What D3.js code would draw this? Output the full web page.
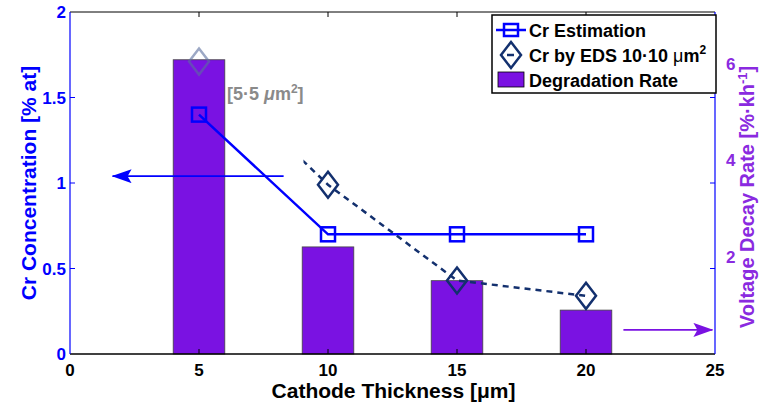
<!DOCTYPE html>
<html>
<head>
<meta charset="utf-8">
<script src="https://cdn.jsdelivr.net/npm/d3@7"></script>
<style>
  body { margin: 0; background: #fff; }
  text { font-family: "Liberation Sans", Helvetica, Arial, sans-serif; font-weight: bold; }
</style>
</head>
<body>
<div id="chart"></div>
<script>
// data
var thickness = [5, 10, 15, 20];
var degradationRate = [6.1, 2.22, 1.52, 0.91];      // right axis, %/kh
var crEstimation = [1.4, 0.7, 0.7, 0.7];             // left axis, % at
var edsThickness = [5, 10, 15, 20];
var crEDS = [1.71, 0.99, 0.43, 0.34];                // first point is the 5x5 um2 one
var xTicks = [0, 5, 10, 15, 20, 25];
var yLeftTicks = [0, 0.5, 1, 1.5, 2];
var yRightTicks = [2, 4, 6];
var blueArrow = [[8.28, 1.04], [1.65, 1.04]];
var purpleArrow = [[21.45, 0.5], [24.9, 0.5]];

var width = 760, height = 402;
var margin = { left: 70, right: 45, top: 12, bottom: 48 };

var svg = d3.select("#chart").append("svg")
    .attr("width", width)
    .attr("height", height);

var x = d3.scaleLinear().domain([0, 25]).range([margin.left, width - margin.right]);
var yL = d3.scaleLinear().domain([0, 2]).range([height - margin.bottom, margin.top]);
var yR = d3.scaleLinear().domain([0, 7.09]).range([height - margin.bottom, margin.top]);

var blue = "#0000ff", navy = "#13306e", purple = "#7a12e2", purpleText = "#8a2ae0";

var defs = svg.append("defs");
defs.append("clipPath").attr("id", "edsclip")
    .append("rect")
    .attr("x", x(9.05)).attr("y", 0)
    .attr("width", x(25) - x(9.05)).attr("height", height);
["blue", "purple"].forEach(function(name) {
    defs.append("marker")
        .attr("id", "head-" + name)
        .attr("viewBox", "0 0 20 14")
        .attr("refX", 19).attr("refY", 7)
        .attr("markerWidth", 20).attr("markerHeight", 14)
        .attr("markerUnits", "userSpaceOnUse")
        .attr("orient", "auto")
        .append("path")
        .attr("d", "M0,0 L20,7 L0,14 L4,7 Z")
        .attr("fill", name === "blue" ? blue : purple);
});

// bars (right axis)
svg.selectAll(".bar")
    .data(thickness)
    .enter().append("rect")
    .attr("class", "bar")
    .attr("x", function(d) { return x(d - 1); })
    .attr("width", function(d) { return x(d + 1) - x(d - 1); })
    .attr("y", function(d, i) { return yR(degradationRate[i]); })
    .attr("height", function(d, i) { return yR(0) - yR(degradationRate[i]); })
    .attr("fill", purple)
    .attr("stroke", "#444")
    .attr("stroke-width", 0.8);

// annotation arrows
svg.append("line")
    .attr("x1", x(blueArrow[0][0])).attr("y1", yL(blueArrow[0][1]))
    .attr("x2", x(blueArrow[1][0])).attr("y2", yL(blueArrow[1][1]))
    .attr("stroke", blue).attr("stroke-width", 1.6)
    .attr("marker-end", "url(#head-blue)");
svg.append("line")
    .attr("x1", x(purpleArrow[0][0])).attr("y1", yR(purpleArrow[0][1]))
    .attr("x2", x(purpleArrow[1][0])).attr("y2", yR(purpleArrow[1][1]))
    .attr("stroke", purple).attr("stroke-width", 1.6)
    .attr("marker-end", "url(#head-purple)");

// Cr estimation line
var line = d3.line()
    .x(function(d) { return x(d[0]); })
    .y(function(d) { return yL(d[1]); });

var estPts = thickness.map(function(t, i) { return [t, crEstimation[i]]; });
svg.append("path")
    .attr("d", line(estPts))
    .attr("fill", "none")
    .attr("stroke", blue)
    .attr("stroke-width", 2.5);

// EDS dashed line, partly hidden near the first point
var edsPts = edsThickness.map(function(t, i) { return [t, crEDS[i]]; });
svg.append("path")
    .attr("d", line(edsPts))
    .attr("clip-path", "url(#edsclip)")
    .attr("fill", "none")
    .attr("stroke", navy)
    .attr("stroke-width", 2.5)
    .attr("stroke-dasharray", "6,5");

function diamond(g, cx, cy, color, opacity) {
    g.append("path")
        .attr("d", "M" + cx + "," + (cy - 13) + " L" + (cx + 10) + "," + cy +
                   " L" + cx + "," + (cy + 13) + " L" + (cx - 10) + "," + cy + " Z")
        .attr("fill", "none")
        .attr("stroke", color)
        .attr("stroke-width", 2.5)
        .attr("opacity", opacity);
}

edsPts.forEach(function(p, i) {
    if (i === 0) diamond(svg, x(p[0]), yL(p[1]), "#5a6e9e", 0.6);
    else diamond(svg, x(p[0]), yL(p[1]), navy, 1);
});

svg.selectAll(".sq")
    .data(estPts)
    .enter().append("rect")
    .attr("class", "sq")
    .attr("x", function(d) { return x(d[0]) - 7; })
    .attr("y", function(d) { return yL(d[1]) - 7; })
    .attr("width", 14).attr("height", 14)
    .attr("fill", "none")
    .attr("stroke", blue)
    .attr("stroke-width", 2.5);

// 5x5 label
var lab = svg.append("text")
    .attr("x", x(5) + 28).attr("y", yL(1.485))
    .attr("fill", "#8a8a8a")
    .style("font-size", "18px");
lab.append("tspan").text("[5·5 ");
lab.append("tspan").style("font-style", "italic").text("μ");
lab.append("tspan").text("m");
lab.append("tspan").attr("dy", -7).style("font-size", "12px").text("2");
lab.append("tspan").attr("dy", 7).text("]");

// axes box
var x0 = x(0), x1 = x(25), y0 = yL(0), y1 = yL(2);
svg.append("line").attr("x1", x0).attr("x2", x1).attr("y1", y1).attr("y2", y1)
    .attr("stroke", "#000").attr("stroke-width", 1);
svg.append("line").attr("x1", x0).attr("x2", x1).attr("y1", y0).attr("y2", y0)
    .attr("stroke", "#000").attr("stroke-width", 1.5);
svg.append("line").attr("x1", x0).attr("x2", x0).attr("y1", y0).attr("y2", y1)
    .attr("stroke", blue).attr("stroke-width", 1.2);
svg.append("line").attr("x1", x1).attr("x2", x1).attr("y1", y0).attr("y2", y1)
    .attr("stroke", blue).attr("stroke-width", 1.2);

// x ticks bottom and top
svg.selectAll(".xt")
    .data(xTicks.slice(1, -1))
    .enter().append("line")
    .attr("x1", function(d) { return x(d); }).attr("x2", function(d) { return x(d); })
    .attr("y1", y1).attr("y2", y1 + 5)
    .attr("stroke", "#000");
svg.selectAll(".xtb")
    .data(xTicks.slice(1, -1))
    .enter().append("line")
    .attr("x1", function(d) { return x(d); }).attr("x2", function(d) { return x(d); })
    .attr("y1", y0).attr("y2", y0 - 5)
    .attr("stroke", "#000");
svg.selectAll(".xl")
    .data(xTicks)
    .enter().append("text")
    .attr("x", function(d) { return x(d); })
    .attr("y", y0 + 22)
    .attr("text-anchor", "middle")
    .style("font-size", "17px")
    .attr("fill", "#000")
    .text(function(d) { return d; });

// left ticks (mirrored on right)
svg.selectAll(".yt")
    .data(yLeftTicks.slice(1, -1))
    .enter().append("line")
    .attr("x1", x0).attr("x2", x0 + 5)
    .attr("y1", function(d) { return yL(d); }).attr("y2", function(d) { return yL(d); })
    .attr("stroke", blue);
svg.selectAll(".ytr")
    .data(yLeftTicks.slice(1, -1))
    .enter().append("line")
    .attr("x1", x1).attr("x2", x1 - 5)
    .attr("y1", function(d) { return yL(d); }).attr("y2", function(d) { return yL(d); })
    .attr("stroke", blue);
svg.selectAll(".yl")
    .data(yLeftTicks)
    .enter().append("text")
    .attr("x", x0 - 4)
    .attr("y", function(d) { return yL(d) + 6; })
    .attr("text-anchor", "end")
    .attr("fill", blue)
    .style("font-size", "17px")
    .text(function(d) { return d; });

svg.selectAll(".yr")
    .data(yRightTicks)
    .enter().append("text")
    .attr("x", x1 + 11)
    .attr("y", function(d) { return yR(d) + 5; })
    .attr("text-anchor", "start")
    .attr("fill", purpleText)
    .style("font-size", "17px")
    .text(function(d) { return d; });

// axis titles
svg.append("text")
    .attr("x", (x0 + x1) / 2 + 1).attr("y", height - 4)
    .attr("text-anchor", "middle")
    .style("font-size", "21px")
    .text("Cathode Thickness [μm]");

svg.append("text")
    .attr("transform", "translate(36," + 183 + ") rotate(-90)")
    .attr("text-anchor", "middle")
    .attr("fill", blue)
    .style("font-size", "21px")
    .text("Cr Concentration [% at]");

var rt = svg.append("text")
    .attr("transform", "translate(754," + 197 + ") rotate(-90)")
    .attr("text-anchor", "middle")
    .attr("fill", purpleText)
    .style("font-size", "20px");
rt.append("tspan").text("Voltage Decay Rate [%·kh");
rt.append("tspan").attr("dy", -7).style("font-size", "13px").text("-1");
rt.append("tspan").attr("dy", 7).text("]");

// legend
var lg = svg.append("g").attr("transform", "translate(492,15)");
lg.append("rect")
    .attr("width", 224).attr("height", 78)
    .attr("fill", "#fff").attr("stroke", "#000").attr("stroke-width", 1.5);

lg.append("line").attr("x1", 4).attr("x2", 34).attr("y1", 15).attr("y2", 15)
    .attr("stroke", blue).attr("stroke-width", 2.5);
lg.append("rect").attr("x", 12).attr("y", 9).attr("width", 14).attr("height", 12)
    .attr("fill", "none").attr("stroke", blue).attr("stroke-width", 2.5);
lg.append("text").attr("x", 37).attr("y", 22).style("font-size", "18px").text("Cr Estimation");

lg.append("line").attr("x1", 15).attr("x2", 22).attr("y1", 40).attr("y2", 40)
    .attr("stroke", navy).attr("stroke-width", 2.5);
diamond(lg, 19, 40, navy, 1);
var t2 = lg.append("text").attr("x", 37).attr("y", 47).style("font-size", "18px");
t2.append("tspan").text("Cr by EDS 10·10 ");
t2.append("tspan").style("font-weight", "normal").text("μ");
t2.append("tspan").text("m");
t2.append("tspan").attr("dy", -8).style("font-size", "12px").text("2");

lg.append("rect").attr("x", 6).attr("y", 57).attr("width", 26).attr("height", 15)
    .attr("fill", purple).attr("stroke", "#000").attr("stroke-width", 0.8);
lg.append("text").attr("x", 37).attr("y", 72).style("font-size", "18px").text("Degradation Rate");
</script>
</body>
</html>
